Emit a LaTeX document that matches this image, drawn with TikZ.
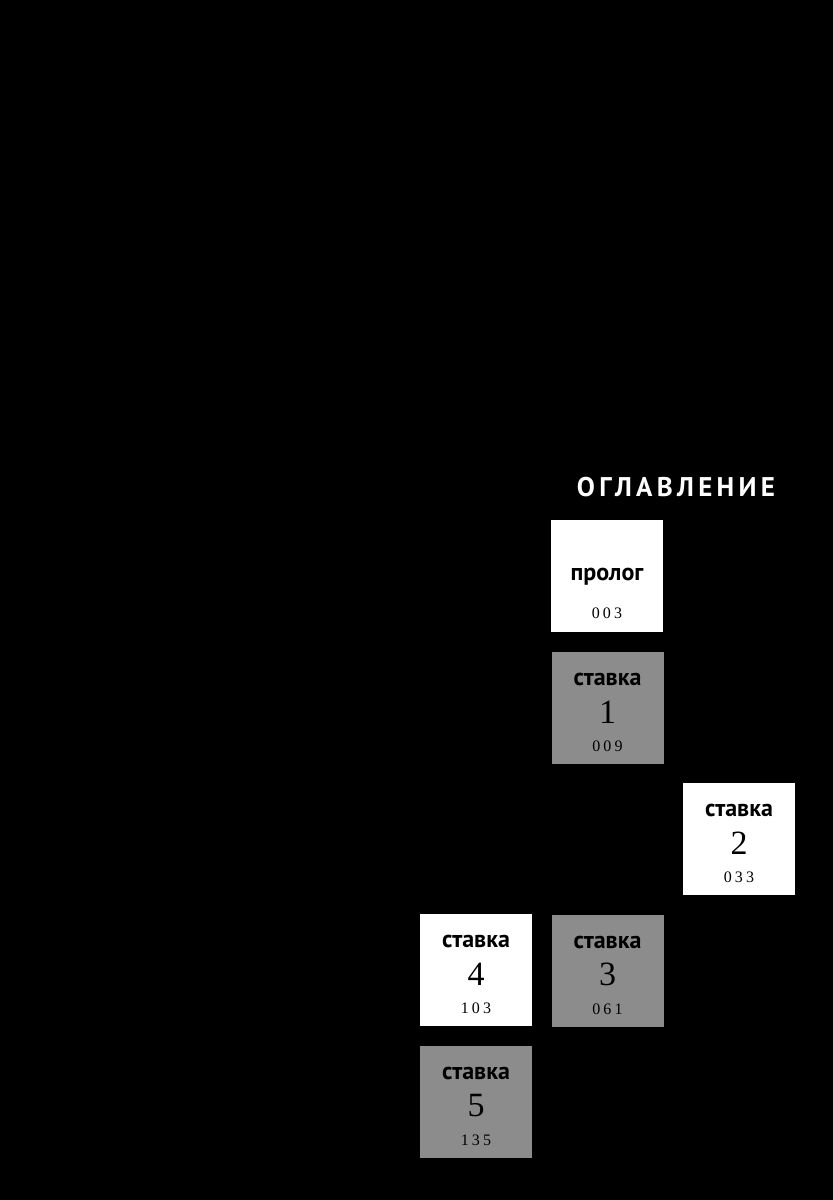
\documentclass[tikz,border=0pt]{standalone}
\usepackage{fontspec}
\setmainfont{Liberation Serif}
\newfontfamily\wordfont{PT Sans}
\newfontfamily\titlefont[LetterSpace=16]{PT Sans}
\newfontfamily\pagefont[LetterSpace=20]{Liberation Serif}
\definecolor{boxgray}{RGB}{140,140,140}

\begin{document}
\begin{tikzpicture}[x=1pt, y=-1pt,
    chapbox/.style={minimum size=112pt, inner sep=0pt},
    chapword/.style={font=\wordfont\bfseries\fontsize{24}{24}\selectfont, inner sep=0pt},
    chapnum/.style={font=\fontsize{34}{34}\selectfont, inner sep=0pt},
    chappage/.style={font=\pagefont\fontsize{16}{16}\selectfont, inner sep=0pt}]
    \fill[black] (0, 0) rectangle (833, 1200);
    \useasboundingbox (0, 0) rectangle (833, 1200);
    \node[font=\titlefont\bfseries\fontsize{27}{27}\selectfont, text=white] (title) at (676, 487) {ОГЛАВЛЕНИЕ};
    % prologue
    \node[chapbox, fill=white] (prolog) at (607, 576) {};
    \node[chapword] at ([yshift=-57pt]prolog.north) {пролог};
    \node[chappage] at ([yshift=-93pt]prolog.north) {003};
    % chapters
    \foreach \n/\x/\y/\c/\num/\pg in {st1/607.5/708/boxgray/1/009, st2/739/839/white/2/033,
            st3/607.5/971/boxgray/3/061, st4/476/970/white/4/103, st5/476/1102/boxgray/5/135} {
        \node[chapbox, fill=\c] (\n) at (\x, \y) {};
        \node[chapword] at ([yshift=-28pt]\n.north) {ставка};
        \node[chapnum] at ([yshift=-60pt]\n.north) {\num};
        \node[chappage] at ([yshift=-94pt]\n.north) {\pg};
    }
\end{tikzpicture}
\end{document}
